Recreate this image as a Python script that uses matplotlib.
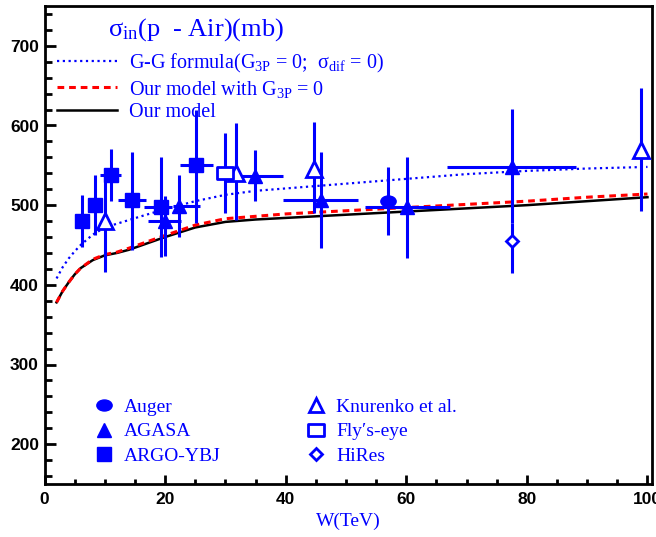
import numpy as np
import matplotlib.pyplot as plt
from matplotlib.lines import Line2D
from matplotlib.path import Path
from matplotlib.transforms import Affine2D

plt.rcParams['mathtext.fontset'] = 'custom'
plt.rcParams['mathtext.rm'] = 'Liberation Serif'
plt.rcParams['mathtext.it'] = 'Liberation Serif:italic'

BLUE = (0, 0, 1)
SERIF = ['Liberation Serif', 'DejaVu Serif']

# model curves, sigma_in(p-Air) in mb vs W in TeV
w_model = [2, 3, 4, 5, 6, 8, 10, 12, 14, 17, 20, 25, 30, 35, 40, 50, 60, 70, 80, 90, 100]
sig_model = [378, 392, 403, 413, 421, 431, 437, 440, 444, 452, 460, 472, 479, 482, 484,
             488, 492, 496, 500, 505, 510]
sig_g3p0 = [378, 392, 403, 413, 421, 432, 438, 441, 446, 454, 462, 475, 483, 486, 489,
            493, 497, 501, 505, 510, 514]

w_gg = [2, 3, 4, 5, 6, 8, 10, 13, 16, 20, 25, 30, 35, 40, 50, 60, 70, 80, 90, 100]
sig_gg = [408, 422, 433, 442, 450, 463, 472, 479, 486, 495, 505, 513, 518, 521, 527,
          533, 539, 543, 546, 548]

# measurements
argo_w = [6.2, 8.3, 11.0, 14.5, 19.4, 25.1]
argo_sig = [480, 500, 538, 507, 498, 550]
argo_werr = [[0, 0, 1.8, 2.3, 2.9, 2.7], [0, 0, 1.7, 2.3, 1.7, 2.9]]
argo_sigerr = [[32, 38, 33, 63, 63, 72], [33, 38, 32, 60, 63, 70]]

agasa_w = [20.0, 22.3, 34.9, 45.8, 60.2, 77.5]
agasa_sig = [480, 499, 537, 506, 498, 548]
agasa_werr = [[2.8, 1.0, 2.5, 6.3, 7.0, 10.8], [2.7, 3.5, 4.7, 6.2, 7.1, 10.6]]
agasa_sigerr = [[44, 39, 32, 60, 64, 70], [31, 39, 32, 61, 63, 73]]

knur_w = [10.0, 31.7, 44.7, 99.0]
knur_sig = [480, 541, 546, 569]
knur_sigerr = [[64, 59, 56, 76], [58, 62, 58, 78]]

fly_w = [29.9]
fly_sig = [540]
fly_sigerr = [[50], [51]]

auger_w = [57.0]
auger_sig = [505]
auger_sigerr = [[43], [43]]

hires_w = [77.6]
hires_sig = [455]
hires_sigerr = [[40], [22]]

# flattened circle and box used for Auger and Fly's eye
ellipse = Path.unit_circle().transformed(Affine2D().scale(1.0, 0.72))
box = Path([(-1, -0.7), (1, -0.7), (1, 0.7), (-1, 0.7), (-1, -0.7)],
           [Path.MOVETO, Path.LINETO, Path.LINETO, Path.LINETO, Path.CLOSEPOLY])

fig = plt.figure(figsize=(6.56, 5.37), dpi=100)
ax = fig.add_axes([44.5 / 656, 1 - 484 / 537, 607.2 / 656, 478 / 537])

ax.plot(w_gg, sig_gg, color=BLUE, ls=(0, (1, 1.6)), lw=1.6)
ax.plot(w_model, sig_g3p0, color='red', ls=(0, (2.2, 1.6)), lw=2.2, zorder=3)
ax.plot(w_model, sig_model, color='black', lw=1.8, zorder=2.5)

eb = dict(fmt='none', ecolor=BLUE, elinewidth=2.2, capsize=0, zorder=4)
ax.errorbar(argo_w, argo_sig, xerr=argo_werr, yerr=argo_sigerr, **eb)
ax.errorbar(agasa_w, agasa_sig, xerr=agasa_werr, yerr=agasa_sigerr, **eb)
ax.errorbar(knur_w, knur_sig, yerr=knur_sigerr, **eb)
ax.errorbar(fly_w, fly_sig, yerr=fly_sigerr, **eb)
ax.errorbar(auger_w, auger_sig, yerr=auger_sigerr, **eb)
ax.errorbar(hires_w, hires_sig, yerr=hires_sigerr, **eb)

mk = dict(ls='none', zorder=5)
ax.plot(argo_w, argo_sig, marker='s', ms=10, color=BLUE, **mk)
ax.plot(agasa_w, agasa_sig, marker='^', ms=10.5, color=BLUE, **mk)
ax.plot(knur_w, knur_sig, marker='^', ms=11, mfc='white', mec=BLUE, mew=2, **mk)
ax.plot(fly_w, fly_sig, marker=box, ms=12, mfc='white', mec=BLUE, mew=2, **mk)
ax.plot(auger_w, auger_sig, marker=ellipse, ms=11, color=BLUE, **mk)
ax.plot(hires_w, hires_sig, marker='D', ms=6.5, mfc='white', mec=BLUE, mew=2, **mk)

ax.set_xlim(0, 100.7)
ax.set_ylim(150, 750)
ax.set_xticks(np.arange(0, 101, 20))
ax.set_xticks(np.arange(0, 101, 5), minor=True)
ax.set_yticks(np.arange(200, 701, 100))
ax.set_yticks(np.arange(160, 750, 20), minor=True)
ax.tick_params(which='both', direction='in', width=2, top=False, right=False,
               labelsize=12.5)
ax.tick_params(axis='y', which='major', length=8, pad=4)
ax.tick_params(axis='y', which='minor', length=5)
ax.tick_params(axis='x', which='major', length=6.5, pad=6)
ax.tick_params(axis='x', which='minor', length=3.5)
for lab in ax.get_xticklabels() + ax.get_yticklabels():
    lab.set_family(['Liberation Sans', 'DejaVu Sans'])
    lab.set_fontweight('bold')
for sp in ax.spines.values():
    sp.set_linewidth(2)

ax.set_xlabel('W(TeV)', color=BLUE, fontsize=14, family=SERIF, labelpad=4)

ax.text(0.105, 0.978, r'σ$_{\mathrm{in}}$(p  - Air)(mb)', transform=ax.transAxes,
        color=BLUE, fontsize=19, family=SERIF, va='top')

line_handles = [
    Line2D([], [], color=BLUE, ls=(0, (1, 1.6)), lw=1.6),
    Line2D([], [], color='red', ls=(0, (2.2, 1.6)), lw=2.2),
    Line2D([], [], color='black', lw=1.8),
]
line_labels = [
    r'G-G formula(G$_{\mathrm{3P}}$ = 0;  σ$_{\mathrm{dif}}$ = 0)',
    r'Our model with G$_{\mathrm{3P}}$ = 0',
    'Our model',
]
leg1 = ax.legend(line_handles, line_labels, loc='upper left',
                 bbox_to_anchor=(0.02, 0.904), frameon=False, labelcolor=BLUE,
                 prop={'family': SERIF, 'size': 14.5}, handlelength=3.0,
                 handletextpad=0.6, labelspacing=0.18, borderpad=0, borderaxespad=0)
ax.add_artist(leg1)

mk_handles = [
    Line2D([], [], ls='none', marker=ellipse, ms=11, color=BLUE),
    Line2D([], [], ls='none', marker='^', ms=10, color=BLUE),
    Line2D([], [], ls='none', marker='s', ms=9.5, color=BLUE),
    Line2D([], [], ls='none', marker='^', ms=10, mfc='white', mec=BLUE, mew=2),
    Line2D([], [], ls='none', marker=box, ms=11.5, mfc='white', mec=BLUE, mew=2),
    Line2D([], [], ls='none', marker='D', ms=6.5, mfc='white', mec=BLUE, mew=2),
]
mk_labels = ['Auger', 'AGASA', 'ARGO-YBJ', 'Knurenko et al.',
             'Fly\u2032s-eye', 'HiRes']
ax.legend(mk_handles, mk_labels, loc='upper left', bbox_to_anchor=(0.082, 0.179),
          ncol=2, frameon=False, labelcolor=BLUE,
          prop={'family': SERIF, 'size': 14}, handlelength=1.0,
          handletextpad=0.5, labelspacing=0.35, columnspacing=4.45,
          borderpad=0, borderaxespad=0)

plt.savefig('out.png', dpi=100)
plt.close()
